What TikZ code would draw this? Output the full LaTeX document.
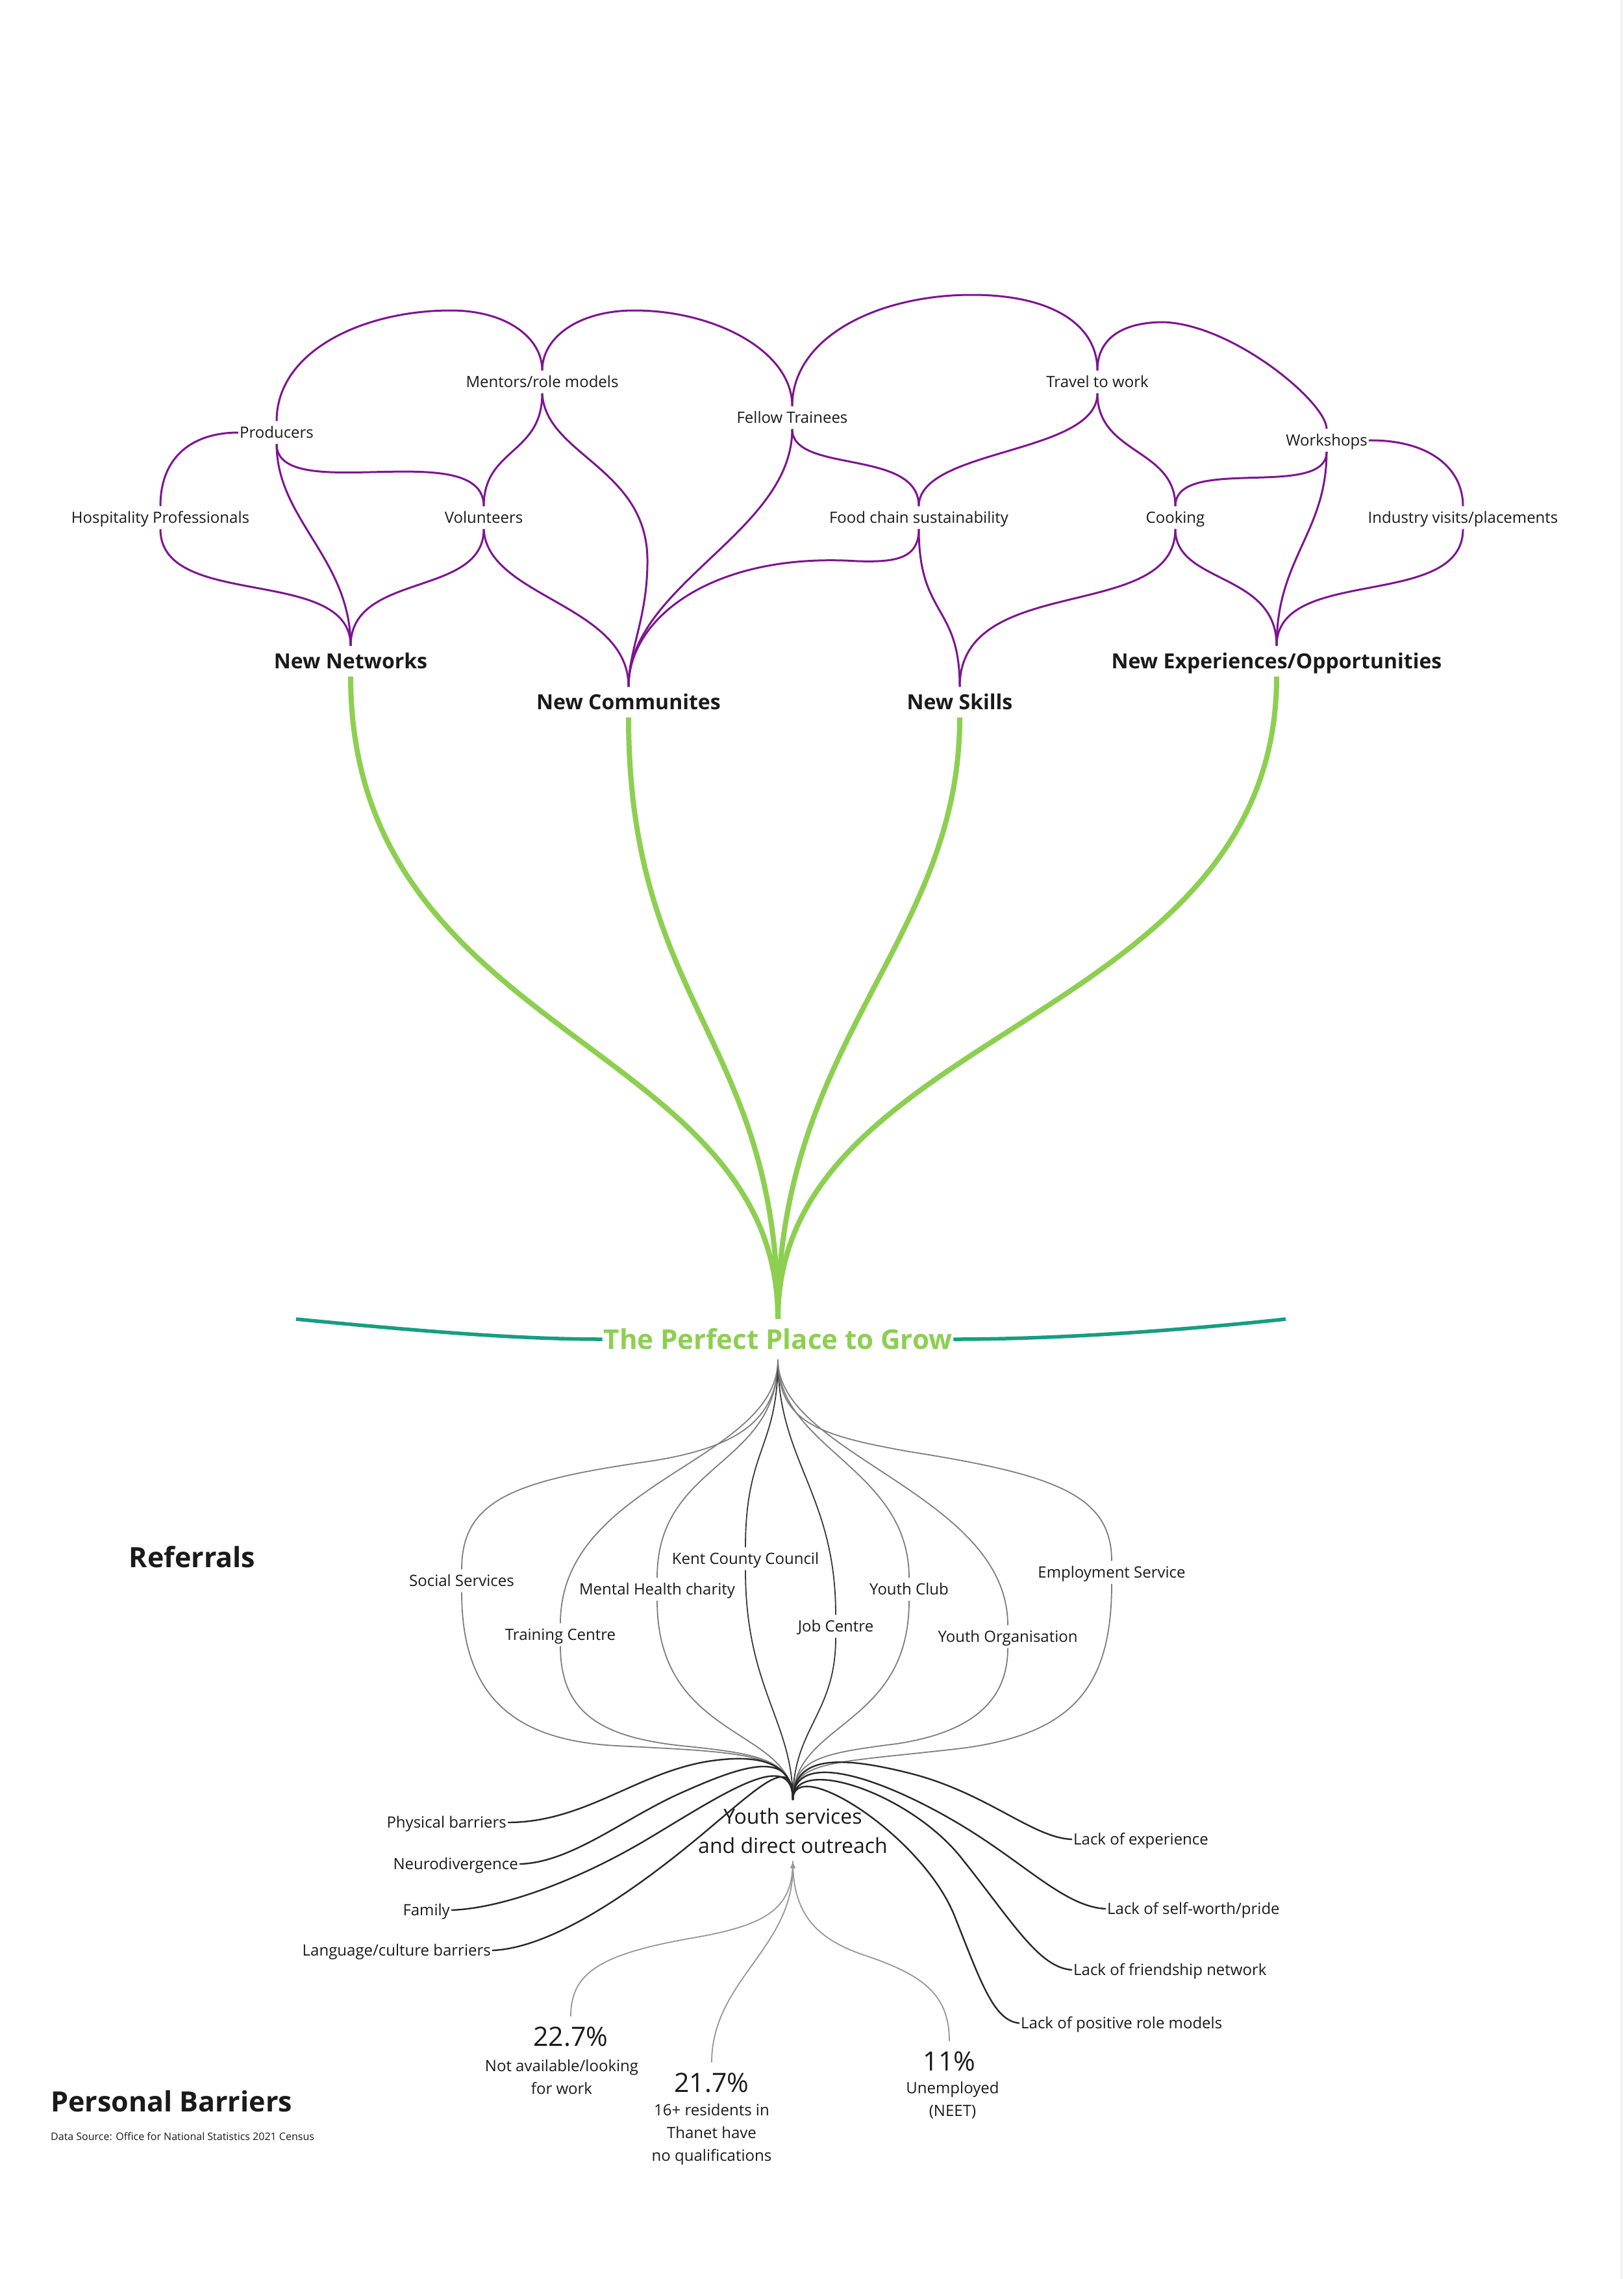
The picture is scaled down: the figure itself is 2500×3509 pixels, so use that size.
\documentclass[tikz,border=0pt]{standalone}
\usepackage{fontspec}
\setmainfont{Open Sans}
\usetikzlibrary{arrows.meta}
\definecolor{txt}{RGB}{26,26,26}
\definecolor{purp}{RGB}{125,20,145}
\definecolor{leaf}{RGB}{141,207,80}
\definecolor{tealc}{RGB}{22,158,128}
\definecolor{refg}{RGB}{125,125,125}
\definecolor{refd}{RGB}{55,55,55}
\definecolor{barr}{RGB}{40,40,40}
\definecolor{statg}{RGB}{150,150,150}
\newcommand{\myfs}[2]{\fontsize{#1pt}{#2pt}\selectfont}
\begin{document}
\begin{tikzpicture}[x=1pt,y=-1pt,
 lbl/.style={font=\myfs{24}{34}, text=txt, text height=17pt, text depth=0pt, inner xsep=2pt, inner ysep=9pt},
 head/.style={font=\myfs{32}{38}\bfseries, text=txt, text height=23pt, text depth=0pt, inner xsep=0pt, inner ysep=12pt},
 ppn/.style={font=\myfs{42}{48}\bfseries, text=leaf, text height=30pt, text depth=0pt, inner xsep=2pt, inner ysep=16pt},
 ysn/.style={font=\myfs{32}{45}, text=txt, align=center, inner xsep=2pt, inner ysep=12pt},
 pct/.style={font=\myfs{41}{48}, text=txt, text height=29.5pt, text depth=0pt, inner xsep=2pt, inner ysep=16.5pt},
 desc/.style={font=\myfs{24}{35}, text=txt, align=center, inner sep=0pt},
 big/.style={font=\myfs{43}{50}\bfseries, text=txt, inner sep=0pt},
 pl/.style={draw=purp, line width=3pt},
 gl/.style={draw=leaf, line width=8pt},
 tl/.style={draw=tealc, line width=5.5pt},
 rg/.style={draw=refg, line width=1.8pt},
 rd/.style={draw=refd, line width=1.8pt},
 bl/.style={draw=barr, line width=2.4pt},
 sl/.style={draw=statg, line width=1.8pt}
]
\fill[white] (0,0) rectangle (2500,3509);
\useasboundingbox (0,0) rectangle (2500,3509);
\draw[gray!12, line width=3pt] (2497,0) -- (2497,3509);

% ---------- upper labels ----------
\node[lbl] (hosp) at (247,797) {Hospitality Professionals};
\node[lbl] (prod) at (426,666) {Producers};
\node[lbl] (ment) at (835,588) {Mentors/role models};
\node[lbl] (vol)  at (745,797) {Volunteers};
\node[lbl] (fell) at (1220,643) {Fellow Trainees};
\node[lbl] (food) at (1415,797) {Food chain sustainability};
\node[lbl] (trav) at (1690,588) {Travel to work};
\node[lbl] (cook) at (1810,797) {Cooking};
\node[lbl] (work) at (2043,678) {Workshops};
\node[lbl] (ind)  at (2253,797) {Industry visits/placements};

\node[head] (NN) at (540,1018) {New Networks};
\node[head] (NC) at (968,1081) {New Communites};
\node[head] (NS) at (1478,1081) {New Skills};
\node[head] (NE) at (1966,1018) {New Experiences/Opportunities};

% ---------- purple links ----------
\draw[pl] (prod.north) .. controls (426,540) and (560,478) .. (694,478) .. controls (780,478) and (835,520) .. (ment.north);
\draw[pl] (ment.north) .. controls (835,520) and (890,478) .. (977,478) .. controls (1100,478) and (1220,540) .. (fell.north);
\draw[pl] (fell.north) .. controls (1220,520) and (1350,454) .. (1497,454) .. controls (1620,454) and (1690,500) .. (trav.north);
\draw[pl] (trav.north) .. controls (1690,520) and (1730,496) .. (1792,496) .. controls (1900,500) and (2043,620) .. (work.north);
\draw[pl] (prod.west) .. controls (300,666) and (247,700) .. (hosp.north);
\draw[pl] (work.east) .. controls (2200,677) and (2253,720) .. (ind.north);
\draw[pl] (prod.south) .. controls (426,800) and (540,860) .. (NN.north);
\draw[pl] (prod.south) .. controls (426,780) and (745,670) .. (vol.north);
\draw[pl] (hosp.south) .. controls (247,940) and (540,870) .. (NN.north);
\draw[pl] (vol.south) .. controls (745,920) and (540,880) .. (NN.north);
\draw[pl] (ment.south) .. controls (835,700) and (745,690) .. (vol.north);
\draw[pl] (ment.south) .. controls (840,700) and (995,720) .. (997,860) .. controls (998,950) and (968,1000) .. (NC.north);
\draw[pl] (vol.south) .. controls (750,920) and (968,930) .. (NC.north);
\draw[pl] (fell.south) .. controls (1220,820) and (968,900) .. (NC.north);
\draw[pl] (food.south) .. controls (1415,860) and (1380,866) .. (1320,864) .. controls (1100,850) and (968,950) .. (NC.north);
\draw[pl] (fell.south) .. controls (1220,730) and (1415,690) .. (food.north);
\draw[pl] (trav.south) .. controls (1690,700) and (1415,690) .. (food.north);
\draw[pl] (trav.south) .. controls (1690,700) and (1810,690) .. (cook.north);
\draw[pl] (work.south) .. controls (2043,770) and (1810,700) .. (cook.north);
\draw[pl] (food.south) .. controls (1415,950) and (1478,930) .. (NS.north);
\draw[pl] (cook.south) .. controls (1810,960) and (1478,880) .. (NS.north);
\draw[pl] (cook.south) .. controls (1810,900) and (1966,880) .. (NE.north);
\draw[pl] (work.south) .. controls (2043,820) and (1966,860) .. (NE.north);
\draw[pl] (ind.south) .. controls (2253,940) and (1966,870) .. (NE.north);

% ---------- stem ----------
\node[ppn] (PP) at (1198,2062) {The Perfect Place to Grow};
\draw[gl] (NN.south) .. controls (540,1600) and (1198,1600) .. (PP.north);
\draw[gl] (NC.south) .. controls (968,1550) and (1198,1600) .. (PP.north);
\draw[gl] (NS.south) .. controls (1478,1450) and (1198,1600) .. (PP.north);
\draw[gl] (NE.south) .. controls (1966,1580) and (1198,1580) .. (PP.north);
\coordinate (tlft) at (456,2031);
\coordinate (trgt) at (1980,2031);
\draw[tl] (tlft) .. controls (650,2050) and (800,2062) .. (PP.west);
\draw[tl] (PP.east) .. controls (1650,2062) and (1850,2045) .. (trgt);

% ---------- referrals ----------
\node[big] (refh) at (296,2397) {Referrals};
\node[lbl] (ss)  at (711,2434) {Social Services};
\node[lbl] (tc)  at (863,2517) {Training Centre};
\node[lbl] (mh)  at (1012,2447) {Mental Health charity};
\node[lbl] (kcc) at (1148,2400) {Kent County Council};
\node[lbl] (jc)  at (1287,2504) {Job Centre};
\node[lbl] (yc)  at (1400,2447) {Youth Club};
\node[lbl] (yo)  at (1552,2520) {Youth Organisation};
\node[lbl] (es)  at (1712,2421) {Employment Service};
\node[ysn] (ys) at (1221,2818.5) {Youth services\\and direct outreach};

\draw[rg] (PP.south) .. controls (1198,2190) and (1130,2230) .. (1000,2250) .. controls (790,2280) and (711,2310) .. (ss.north);
\draw[rg] (PP.south) .. controls (1198,2250) and (863,2280) .. (tc.north);
\draw[rg] (PP.south) .. controls (1198,2260) and (1012,2250) .. (mh.north);
\draw[rd] (PP.south) .. controls (1198,2230) and (1148,2230) .. (kcc.north);
\draw[rd] (PP.south) .. controls (1198,2250) and (1287,2300) .. (jc.north);
\draw[rg] (PP.south) .. controls (1198,2230) and (1400,2260) .. (yc.north);
\draw[rg] (PP.south) .. controls (1198,2240) and (1552,2300) .. (yo.north);
\draw[rg] (PP.south) .. controls (1198,2190) and (1260,2210) .. (1400,2235) .. controls (1620,2270) and (1712,2300) .. (es.north);

\draw[rg] (ss.south) .. controls (711,2620) and (800,2680) .. (950,2688) .. controls (1150,2698) and (1221,2700) .. (ys.north);
\draw[rg] (tc.south) .. controls (863,2640) and (930,2675) .. (1050,2688) .. controls (1170,2700) and (1221,2710) .. (ys.north);
\draw[rg] (mh.south) .. controls (1012,2680) and (1221,2660) .. (ys.north);
\draw[rd] (kcc.south) .. controls (1148,2600) and (1221,2650) .. (ys.north);
\draw[rd] (jc.south) .. controls (1287,2640) and (1221,2660) .. (ys.north);
\draw[rg] (yc.south) .. controls (1400,2660) and (1221,2650) .. (ys.north);
\draw[rg] (yo.south) .. controls (1552,2630) and (1480,2670) .. (1380,2685) .. controls (1260,2700) and (1221,2710) .. (ys.north);
\draw[rg] (es.south) .. controls (1712,2600) and (1650,2670) .. (1480,2692) .. controls (1280,2715) and (1221,2710) .. (ys.north);

% ---------- barriers ----------
\node[lbl, anchor=east] (pb)   at (782,2806) {Physical barriers};
\node[lbl, anchor=east] (nd)   at (800,2870) {Neurodivergence};
\node[lbl, anchor=east] (fam)  at (695,2941) {Family};
\node[lbl, anchor=east] (lang) at (758,3003) {Language/culture barriers};
\node[lbl, anchor=west] (le)   at (1651,2832) {Lack of experience};
\node[lbl, anchor=west] (lsw)  at (1703,2939) {Lack of self-worth/pride};
\node[lbl, anchor=west] (lfn)  at (1651,3033) {Lack of friendship network};
\node[lbl, anchor=west] (lpr)  at (1570,3115) {Lack of positive role models};

\draw[bl] (pb.east) .. controls (900,2806) and (980,2730) .. (1090,2712) .. controls (1180,2698) and (1221,2720) .. (ys.north);
\draw[bl] (nd.east) .. controls (880,2868) and (960,2800) .. (1050,2760) .. controls (1140,2720) and (1221,2690) .. (ys.north);
\draw[bl] (fam.east) .. controls (780,2938) and (900,2890) .. (1000,2830) .. controls (1120,2758) and (1221,2690) .. (ys.north);
\draw[bl] (lang.east) .. controls (840,3000) and (950,2930) .. (1050,2850) .. controls (1160,2762) and (1221,2690) .. (ys.north);
\draw[bl] (le.west) .. controls (1590,2830) and (1520,2760) .. (1400,2730) .. controls (1300,2705) and (1221,2700) .. (ys.north);
\draw[bl] (lsw.west) .. controls (1640,2936) and (1580,2870) .. (1480,2810) .. controls (1360,2738) and (1221,2690) .. (ys.north);
\draw[bl] (lfn.west) .. controls (1600,3030) and (1560,2960) .. (1480,2860) .. controls (1400,2760) and (1221,2700) .. (ys.north);
\draw[bl] (lpr.west) .. controls (1530,3112) and (1510,3050) .. (1470,2950) .. controls (1420,2825) and (1221,2700) .. (ys.north);

% ---------- statistics ----------
\node[pct] (p1) at (879,3136) {22.7\%};
\node[desc] (d1) at (865,3198) {Not available/looking\\for work};
\node[pct] (p2) at (1096,3207) {21.7\%};
\node[desc] (d2) at (1096,3286) {16+ residents in\\Thanet have\\no qualifications};
\node[pct] (p3) at (1462,3174) {11\%};
\node[desc] (d3) at (1467,3234) {Unemployed\\(NEET)};

\draw[sl] (p1.north) .. controls (879,3040) and (920,3010) .. (1060,2985) .. controls (1180,2965) and (1221,2940) .. (ys.south);
\draw[sl] (p3.north) .. controls (1462,3070) and (1420,3040) .. (1330,3010) .. controls (1250,2983) and (1221,2940) .. (ys.south);
\draw[sl,-{Latex[length=11pt,width=9pt]}] (p2.north) .. controls (1096,3050) and (1221,3000) .. (ys.south);

\node[big, anchor=west] (pbt) at (78,3235) {Personal Barriers};
\node[font=\myfs{16}{20}, text=txt, anchor=west, inner sep=0pt] (src) at (78,3289) {Data Source: Office for National Statistics 2021 Census};
\end{tikzpicture}
\end{document}
